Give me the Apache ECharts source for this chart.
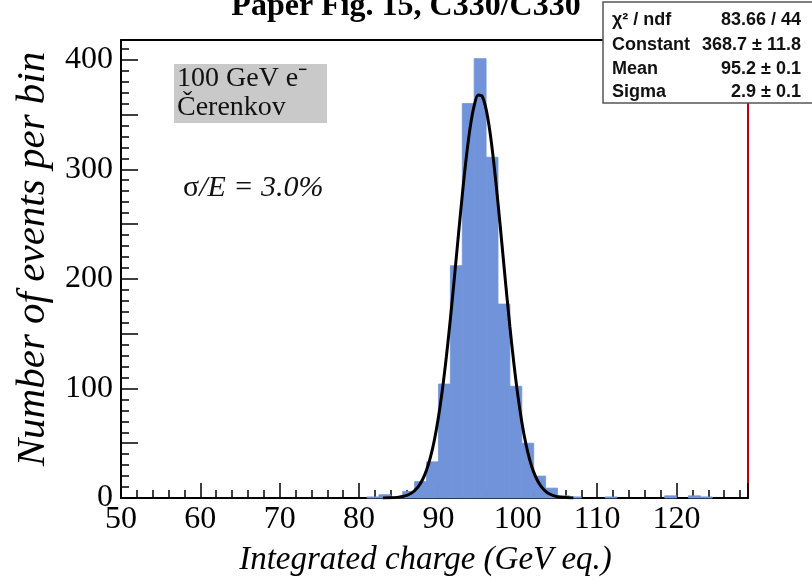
<!DOCTYPE html>
<html>
<head>
<meta charset="utf-8">
<script src="https://cdn.jsdelivr.net/npm/echarts@6/dist/echarts.min.js"></script>
<style>html,body{margin:0;padding:0;background:#fff;}#c{width:812px;height:582px;}</style>
</head>
<body>
<div id="c"></div>
<script>
// ---- data ----
const binWidth = 1.5;
const binLow = [81, 82.5, 84, 85.5, 87, 88.5, 90, 91.5, 93, 94.5, 96, 97.5, 99, 100.5, 102, 103.5, 105, 106.5, 111, 118.5, 121.5, 123];
const counts = [1, 3, 1, 6, 15, 33, 104, 212, 360, 401, 311, 177, 102, 50, 20, 9, 2, 1, 1, 2, 2, 1];
const fitX = [83, 84, 85, 85.5, 86, 86.5, 87, 87.5, 88, 88.5, 89, 89.5, 90, 90.5, 91, 91.5, 92, 92.5, 93, 93.5, 94, 94.5, 95, 95.5, 96, 96.5, 97, 97.5, 98, 98.5, 99, 99.5, 100, 100.5, 101, 101.5, 102, 102.5, 103, 103.5, 104, 104.5, 105, 106, 107];
const fitY = [0.05, 0.2, 0.8, 1.37, 2.4, 4.1, 6.8, 10.9, 16.9, 25.6, 37.5, 53.4, 73.9, 99.1, 129.2, 163.4, 200.6, 239.0, 276.5, 310.5, 338.5, 358.1, 367.8, 366.7, 354.9, 333.5, 304.1, 269.2, 231.4, 193.0, 156.3, 122.8, 93.7, 69.4, 49.9, 34.8, 23.6, 15.5, 9.9, 6.1, 3.7, 2.2, 1.2, 0.36, 0.1];
const xTickLabels = [50, 60, 70, 80, 90, 100, 110, 120];
const yTickLabels = [0, 100, 200, 300, 400];
const statsRows = [["\u03c7\u00b2 / ndf", "83.66 / 44"], ["Constant", "368.7 \u00b1 11.8"], ["Mean", "95.2 \u00b1 0.1"], ["Sigma", "2.9 \u00b1 0.1"]];
const titleText = "Paper Fig. 15, C330/C330";
const legendLines = ["100 GeV e\u207b", "\u010cerenkov"];

// ---- styles ----
const barColor = '#7193da';
const serif = '"Liberation Serif", "Times New Roman", serif';
const sans = '"Liberation Sans", Arial, sans-serif';

const chart = echarts.init(document.getElementById('c'), null, {renderer: 'canvas'});

const histData = binLow.map((b, i) => [b, counts[i]]);
const fitData = fitX.map((x, i) => [x, fitY[i]]);

const statsGraphics = [];
const rowY = [20, 45, 69, 92];
statsRows.forEach((r, i) => {
  statsGraphics.push({type: 'text', x: 612, y: rowY[i], style: {text: r[0], font: 'bold 18px ' + sans, fill: '#111', verticalAlign: 'middle', align: 'left'}});
  statsGraphics.push({type: 'text', x: 801, y: rowY[i], style: {text: r[1], font: 'bold 18px ' + sans, fill: '#111', verticalAlign: 'middle', align: 'right'}});
});

const option = {
  animation: false,
  backgroundColor: '#fff',
  title: {
    text: titleText, left: 'center', top: -14,
    textStyle: {fontFamily: serif, fontWeight: 'bold', fontSize: 32, color: '#000'}
  },
  grid: {left: 121, right: 64, top: 40, bottom: 82, containLabel: false},
  xAxis: [{
    type: 'value', min: 50, max: 129, interval: 10,
    name: 'Integrated charge (GeV eq.)', nameLocation: 'middle', nameGap: 46,
    nameTextStyle: {fontFamily: serif, fontStyle: 'italic', fontSize: 33, color: '#000', padding: [0, 18, 0, 0]},
    axisLine: {show: true, onZero: false, lineStyle: {color: '#000', width: 2}},
    axisTick: {show: true, inside: true, length: 15, lineStyle: {color: '#000', width: 1.5}},
    minorTick: {show: true, splitNumber: 5, length: 8, lineStyle: {color: '#000', width: 1.5}},
    axisLabel: {
      margin: 6, fontFamily: serif, fontSize: 32, color: '#000',
      formatter: v => (xTickLabels.indexOf(v) >= 0 ? String(v) : '')
    },
    splitLine: {show: false}
  }, {
    type: 'value', position: 'top', min: 50, max: 129,
    axisLine: {show: true, onZero: false, lineStyle: {color: '#000', width: 2}},
    axisTick: {show: false}, axisLabel: {show: false}, splitLine: {show: false}
  }],
  yAxis: [{
    type: 'value', min: 0, max: 418, interval: 50,
    name: 'Number of events per bin', nameLocation: 'middle', nameGap: 67,
    nameTextStyle: {fontFamily: serif, fontStyle: 'italic', fontSize: 41, color: '#000', padding: [0, 0, 0, 20]},
    axisLine: {show: true, onZero: false, lineStyle: {color: '#000', width: 2}},
    axisTick: {show: true, inside: true, length: 17, lineStyle: {color: '#000', width: 1.5}},
    minorTick: {show: true, splitNumber: 5, length: 8, lineStyle: {color: '#000', width: 1.5}},
    axisLabel: {
      margin: 8, fontFamily: serif, fontSize: 32, color: '#000',
      formatter: v => (yTickLabels.indexOf(v) >= 0 ? String(v) : '')
    },
    splitLine: {show: false}
  }, {
    type: 'value', position: 'right', min: 0, max: 418,
    axisLine: {show: true, onZero: false, lineStyle: {color: '#c00000', width: 2}},
    axisTick: {show: false}, axisLabel: {show: false}, splitLine: {show: false}
  }],
  series: [{
    type: 'custom',
    xAxisIndex: 0, yAxisIndex: 0,
    data: histData,
    encode: {x: 0, y: 1},
    renderItem: function (params, api) {
      const x0 = api.value(0);
      const c = api.value(1);
      const p0 = api.coord([x0, c]);
      const p1 = api.coord([x0 + binWidth, 0]);
      return {type: 'rect', shape: {x: p0[0], y: p0[1], width: p1[0] - p0[0], height: p1[1] - p0[1]},
              style: {fill: barColor, stroke: barColor, lineWidth: 0.8}};
    },
    z: 1
  }, {
    type: 'line',
    xAxisIndex: 0, yAxisIndex: 0,
    data: fitData, smooth: 0.3, showSymbol: false, symbol: 'none',
    lineStyle: {color: '#000', width: 3}, z: 3
  }],
  graphic: [
    {type: 'rect', z: 10, shape: {x: 174, y: 64, width: 153, height: 59}, style: {fill: '#c9c9c9'}},
    {type: 'text', z: 11, x: 177, y: 79, style: {text: legendLines[0], font: '28px ' + serif, fill: '#111', verticalAlign: 'middle'}},
    {type: 'text', z: 11, x: 177, y: 108, style: {text: legendLines[1], font: '28px ' + serif, fill: '#111', verticalAlign: 'middle'}},
    {type: 'text', z: 11, x: 183, y: 188, style: {
      text: '{u|\u03c3}{i|/E = 3.0%}', verticalAlign: 'middle',
      rich: {u: {fontFamily: serif, fontSize: 30, fill: '#111', color: '#111'}, i: {fontFamily: serif, fontStyle: 'italic', fontSize: 30, fill: '#111', color: '#111'}}
    }},
    {type: 'rect', z: 20, shape: {x: 603, y: 2, width: 215, height: 101}, style: {fill: '#fff', stroke: '#555', lineWidth: 1.5}},
    ...statsGraphics.map(g => Object.assign(g, {z: 21}))
  ]
};
chart.setOption(option);
</script>
</body>
</html>
